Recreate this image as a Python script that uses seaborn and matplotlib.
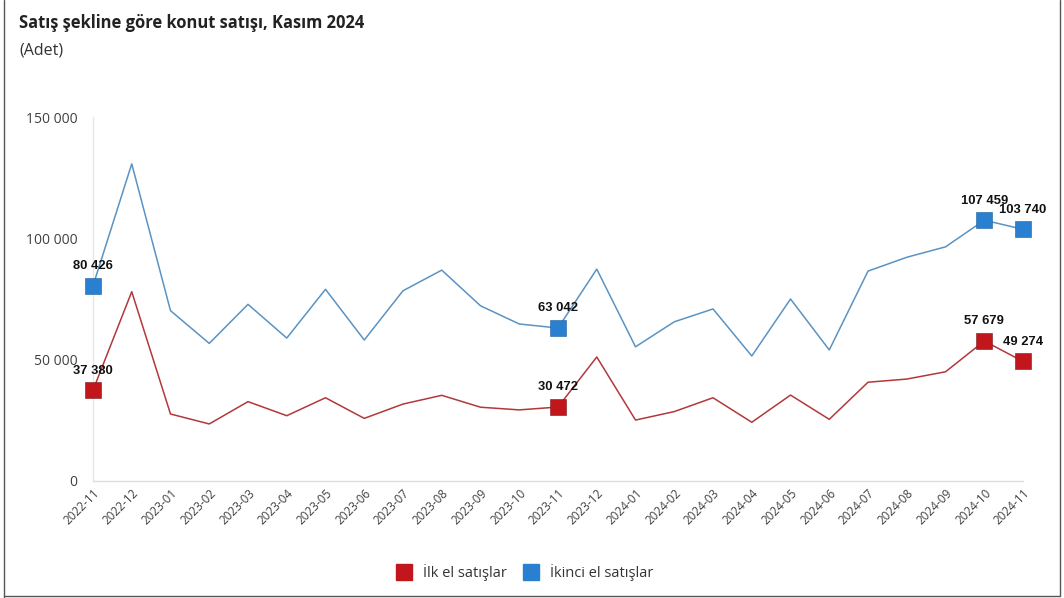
import matplotlib
matplotlib.use("Agg")
import matplotlib.pyplot as plt
from matplotlib.lines import Line2D
import seaborn as sns
import pandas as pd

months = ["2022-11", "2022-12", "2023-01", "2023-02", "2023-03", "2023-04", "2023-05",
          "2023-06", "2023-07", "2023-08", "2023-09", "2023-10", "2023-11", "2023-12",
          "2024-01", "2024-02", "2024-03", "2024-04", "2024-05", "2024-06", "2024-07",
          "2024-08", "2024-09", "2024-10", "2024-11"]
ilk_el = [37380, 78000, 27600, 23500, 32700, 26900, 34300, 25800, 31700, 35300, 30400,
          29300, 30472, 51100, 25100, 28600, 34300, 24200, 35400, 25400, 40700, 42000,
          45000, 57679, 49274]
ikinci_el = [80426, 130700, 70200, 56700, 72800, 58900, 79000, 58100, 78400, 86900, 72200,
             64700, 63042, 87300, 55300, 65600, 70900, 51500, 75000, 54000, 86500, 92200,
             96500, 107459, 103740]
series_names = ["İlk el satışlar", "İkinci el satışlar"]
labeled_idx = [0, 12, 23, 24]
yticks = [0, 50000, 100000, 150000]
ytick_labels = ["0", "50 000", "100 000", "150 000"]

sns.set_theme(style="white")
plt.rcParams["font.family"] = ["Open Sans", "DejaVu Sans"]

df = pd.DataFrame({
    "Ay": months * 2,
    "Adet": ilk_el + ikinci_el,
    "Seri": [series_names[0]] * len(months) + [series_names[1]] * len(months),
})

line_colors = {series_names[0]: "#b2383a", series_names[1]: "#5a93c2"}
marker_colors = {series_names[0]: "#c0161c", series_names[1]: "#2a80d0"}
edge_colors = {series_names[0]: "#7a1a1a", series_names[1]: "#1f5f9a"}

fig = plt.figure(figsize=(10.64, 5.98), dpi=100)
ax = fig.add_axes([0.0874, 0.1957, 0.8741, 0.6086])

sns.lineplot(data=df, x="Ay", y="Adet", hue="Seri", palette=line_colors,
             linewidth=1.1, ax=ax, legend=False, sort=False)

for name, vals in zip(series_names, [ilk_el, ikinci_el]):
    sub = df[df["Seri"] == name].iloc[labeled_idx]
    sns.scatterplot(data=sub, x="Ay", y="Adet", marker="s", s=125,
                    color=marker_colors[name], edgecolor=edge_colors[name],
                    linewidth=0.4, ax=ax, legend=False, zorder=5)
    for i in labeled_idx:
        v = vals[i]
        ax.annotate(f"{v:,}".replace(",", " "), (i, v), xytext=(0, 12),
                    textcoords="offset points", ha="center", va="baseline",
                    fontsize=9.4, fontweight="bold", family="Liberation Sans",
                    color="#111111", zorder=6, annotation_clip=False)
for coll in ax.collections:
    coll.set_clip_on(False)

ax.set_xlim(0, len(months) - 1)
ax.set_ylim(0, 150000)
ax.set_yticks(yticks)
ax.set_yticklabels(ytick_labels, fontsize=10, color="#404040")
ax.set_xticks(range(len(months)))
ax.set_xticklabels(months, rotation=45, ha="right", rotation_mode="anchor",
                   fontsize=8.5, color="#404040")
ax.tick_params(axis="x", pad=4, length=0)
ax.tick_params(axis="y", pad=11, length=0)
ax.set_xlabel("")
ax.set_ylabel("")
for s in ["top", "right"]:
    ax.spines[s].set_visible(False)
ax.spines["left"].set_color("#e6e6e6")
ax.spines["bottom"].set_color("#dcdcdc")
ax.spines["left"].set_linewidth(1)
ax.spines["bottom"].set_linewidth(1)
ax.grid(False)

fig.text(0.018, 0.962, "Satış şekline göre konut satışı, Kasım 2024",
         fontsize=11.9, fontweight="bold", color="#222222", va="center")
fig.text(0.018, 0.915, "(Adet)", fontsize=11.5, color="#333333", va="center")

handles = [Line2D([0], [0], marker="s", linestyle="none", markersize=12,
                  markerfacecolor=marker_colors[n], markeredgecolor=marker_colors[n])
           for n in series_names]
fig.legend(handles, series_names, loc="center", bbox_to_anchor=(0.49, 0.042),
           ncol=2, frameon=False, fontsize=10.5, handletextpad=0.3, columnspacing=0.7,
           labelcolor="#333333")

# outer frame
fig.add_artist(Line2D([0.004, 0.004], [0.0, 1.0], color="#555555", linewidth=1,
                      transform=fig.transFigure))
fig.add_artist(Line2D([0.004, 0.9965], [0.004, 0.004], color="#555555", linewidth=1,
                      transform=fig.transFigure))
fig.add_artist(Line2D([0.9965, 0.9965], [0.004, 1.0], color="#555555", linewidth=1,
                      transform=fig.transFigure))

fig.savefig("out.png", dpi=100)
